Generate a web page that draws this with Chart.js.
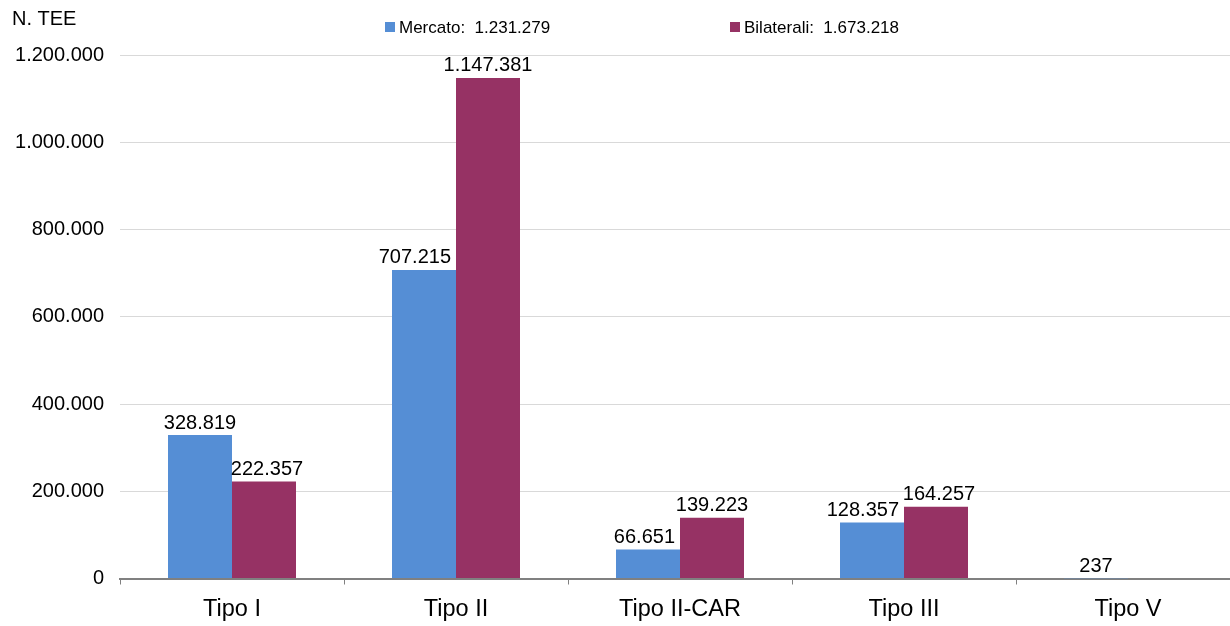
<!DOCTYPE html>
<html>
<head>
<meta charset="utf-8">
<script src="https://cdn.jsdelivr.net/npm/chart.js@4.4.1/dist/chart.umd.min.js"></script>
<style>
html,body{margin:0;padding:0;background:#fff;overflow:hidden;width:1230px;height:626px;}
#wrap{position:relative;width:1240px;height:634px;}
</style>
</head>
<body>
<div id="wrap"><canvas id="c" width="1240" height="634"></canvas></div>
<script>
const categories = ["Tipo I", "Tipo II", "Tipo II-CAR", "Tipo III", "Tipo V"];
const mercato = [328819, 707215, 66651, 128357, 237];
const bilaterali = [222357, 1147381, 139223, 164257, 0];
const seriesNames = ["Mercato", "Bilaterali"];
const seriesColors = ["#558ed5", "#963264"];
const yTicks = [0, 200000, 400000, 600000, 800000, 1000000, 1200000];
const yTitle = "N. TEE";

function fmt(v){
  return String(Math.round(v)).replace(/\B(?=(\d{3})+(?!\d))/g, ".");
}
const FONT = "'Liberation Sans', Arial, sans-serif";

const dataLabels = {
  id: 'dataLabels',
  afterDatasetsDraw(chart){
    const ctx = chart.ctx;
    ctx.save();
    ctx.font = "20px " + FONT;
    ctx.fillStyle = "#000";
    ctx.textAlign = "center";
    ctx.textBaseline = "bottom";
    const m0 = chart.getDatasetMeta(0), m1 = chart.getDatasetMeta(1);
    chart.data.datasets.forEach((ds, i) => {
      const meta = chart.getDatasetMeta(i);
      meta.data.forEach((el, j) => {
        const v = ds.data[j];
        if (!v) return;
        const txt = fmt(v);
        const w = ctx.measureText(txt).width;
        let x = el.x;
        const y = el.y - 2;
        if (i === 0) {
          const nb = m1.data[j];
          if (bilaterali[j] && nb.y < y) {
            const barRight = el.x + el.width / 2;
            x = Math.min(x, barRight - 5 - w / 2);
          }
        } else {
          const nb = m0.data[j];
          if (mercato[j] && nb.y - 22 < el.y) x = el.x + 3;
        }
        ctx.fillText(txt, x, y);
      });
    });
    ctx.restore();
  }
};

const customLegend = {
  id: 'customLegend',
  afterDraw(chart){
    const ctx = chart.ctx;
    ctx.save();
    ctx.font = "20px " + FONT;
    ctx.fillStyle = "#000";
    ctx.textAlign = "left";
    ctx.textBaseline = "middle";
    ctx.fillText(yTitle, 12, 19);
    const xs = [385, 730];
    ctx.font = "17px " + FONT;
    chart.data.datasets.forEach((ds, i) => {
      const total = ds.data.reduce((a, b) => a + b, 0);
      ctx.fillStyle = seriesColors[i];
      ctx.fillRect(xs[i], 22, 10, 10);
      ctx.fillStyle = "#000";
      ctx.fillText(seriesNames[i] + ":  " + fmt(total), xs[i] + 14, 28);
    });
    ctx.restore();
  }
};

new Chart(document.getElementById('c'), {
  type: 'bar',
  data: {
    labels: categories,
    datasets: [
      { label: seriesNames[0], data: mercato, backgroundColor: seriesColors[0], barPercentage: 1.0, categoryPercentage: 0.5714 },
      { label: seriesNames[1], data: bilaterali, backgroundColor: seriesColors[1], barPercentage: 1.0, categoryPercentage: 0.5714 }
    ]
  },
  options: {
    responsive: false,
    animation: false,
    devicePixelRatio: 1,
    layout: { padding: { top: 55, left: 0, right: 0, bottom: 0 } },
    plugins: { legend: { display: false }, tooltip: { enabled: false } },
    scales: {
      x: {
        offset: true,
        grid: { display: true, offset: true, drawOnChartArea: false, drawTicks: true, tickLength: 6, color: "#808080", lineWidth: 1 },
        border: { display: true, color: "#808080", width: 2 },
        ticks: { font: { size: 23.5, family: FONT, lineHeight: 1 }, color: "#000", padding: 13 }
      },
      y: {
        min: 0, max: 1200000,
        afterBuildTicks(scale){ scale.ticks = yTicks.map(v => ({ value: v })); },
        afterFit(scale){ scale.width = 120; },
        grid: { color: "#d9d9d9", lineWidth: 1, drawTicks: false },
        border: { display: false },
        ticks: { font: { size: 20, family: FONT }, color: "#000", padding: 16, callback: v => fmt(v) }
      }
    }
  },
  plugins: [dataLabels, customLegend]
});
</script>
</body>
</html>
